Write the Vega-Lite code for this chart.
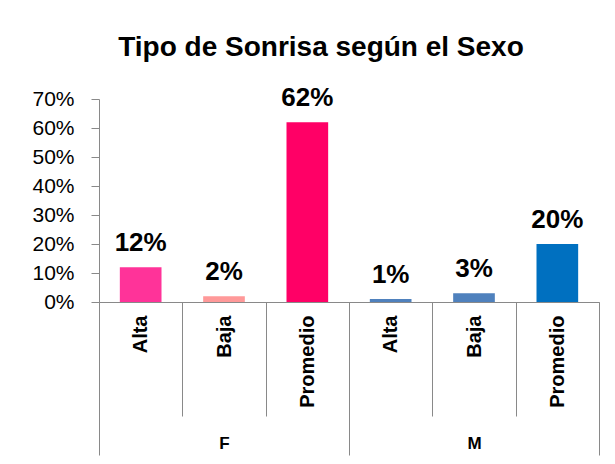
{
  "$schema": "https://vega.github.io/schema/vega-lite/v6.json",
  "width": 500,
  "height": 203,
  "autosize": {"type": "pad"},
  "padding": {"left": 31, "top": 34, "right": 17, "bottom": 2},
  "title": {
    "text": "Tipo de Sonrisa según el Sexo",
    "font": "Liberation Sans",
    "fontSize": 28,
    "fontWeight": "bold",
    "color": "black",
    "anchor": "middle",
    "dx": -28,
    "offset": 23
  },
  "data": {
    "values": [
      {"id": "F-Alta", "sexo": "F", "tipo": "Alta", "valor": 0.12},
      {"id": "F-Baja", "sexo": "F", "tipo": "Baja", "valor": 0.02},
      {"id": "F-Promedio", "sexo": "F", "tipo": "Promedio", "valor": 0.62},
      {"id": "M-Alta", "sexo": "M", "tipo": "Alta", "valor": 0.01},
      {"id": "M-Baja", "sexo": "M", "tipo": "Baja", "valor": 0.03},
      {"id": "M-Promedio", "sexo": "M", "tipo": "Promedio", "valor": 0.20}
    ]
  },
  "config": {
    "view": {"stroke": null},
    "axis": {"grid": false, "domainColor": "#898989", "tickColor": "#898989", "labelColor": "black"}
  },
  "layer": [
    {
      "layer": [
        {
          "mark": {"type": "bar", "width": {"band": 0.5}},
          "encoding": {
            "x": {
              "field": "id", "type": "nominal", "sort": null,
              "scale": {"paddingInner": 0, "paddingOuter": 0},
              "axis": {
                "title": null,
                "labelExpr": "split(datum.value,'-')[1]",
                "labelAngle": 270,
                "labelFont": "Liberation Sans",
                "labelFontSize": 20,
                "labelFontWeight": "bold",
                "tickBand": "extent",
                "tickSize": 114,
                "labelPadding": -101
              }
            },
            "y": {
              "field": "valor", "type": "quantitative",
              "scale": {"domain": [0, 0.7]},
              "axis": {
                "title": null,
                "format": ".0%",
                "values": [0, 0.1, 0.2, 0.3, 0.4, 0.5, 0.6, 0.7],
                "tickCount": 20,
                "labelOverlap": false,
                "tickSize": 8,
                "labelPadding": 17,
                "labelFont": "Liberation Sans",
                "labelFontSize": 21
              }
            },
            "color": {
              "field": "id", "type": "nominal",
              "scale": {
                "domain": ["F-Alta", "F-Baja", "F-Promedio", "M-Alta", "M-Baja", "M-Promedio"],
                "range": ["#FF3399", "#FF9999", "#FF0066", "#4F81BD", "#4F81BD", "#0070C0"]
              },
              "legend": null
            }
          }
        },
        {
          "mark": {"type": "text", "font": "Liberation Sans", "fontSize": 26, "fontWeight": "bold", "baseline": "alphabetic", "dy": -16, "color": "black"},
          "encoding": {
            "x": {"field": "id", "type": "nominal", "sort": null},
            "y": {"field": "valor", "type": "quantitative"},
            "text": {"field": "valor", "type": "quantitative", "format": ".0%"}
          }
        }
      ]
    },
    {
      "mark": {"type": "text", "text": ""},
      "encoding": {
        "x": {
          "field": "sexo", "type": "nominal",
          "scale": {"paddingInner": 0, "paddingOuter": 0},
          "axis": {
            "orient": "bottom",
            "title": null,
            "domain": false,
            "tickBand": "extent",
            "tickSize": 153,
            "labelPadding": -20,
            "labelAngle": 0,
            "labelFont": "Liberation Sans",
            "labelFontSize": 17,
            "labelFontWeight": "bold"
          }
        }
      }
    }
  ],
  "resolve": {"scale": {"x": "independent"}, "axis": {"x": "independent"}}
}
